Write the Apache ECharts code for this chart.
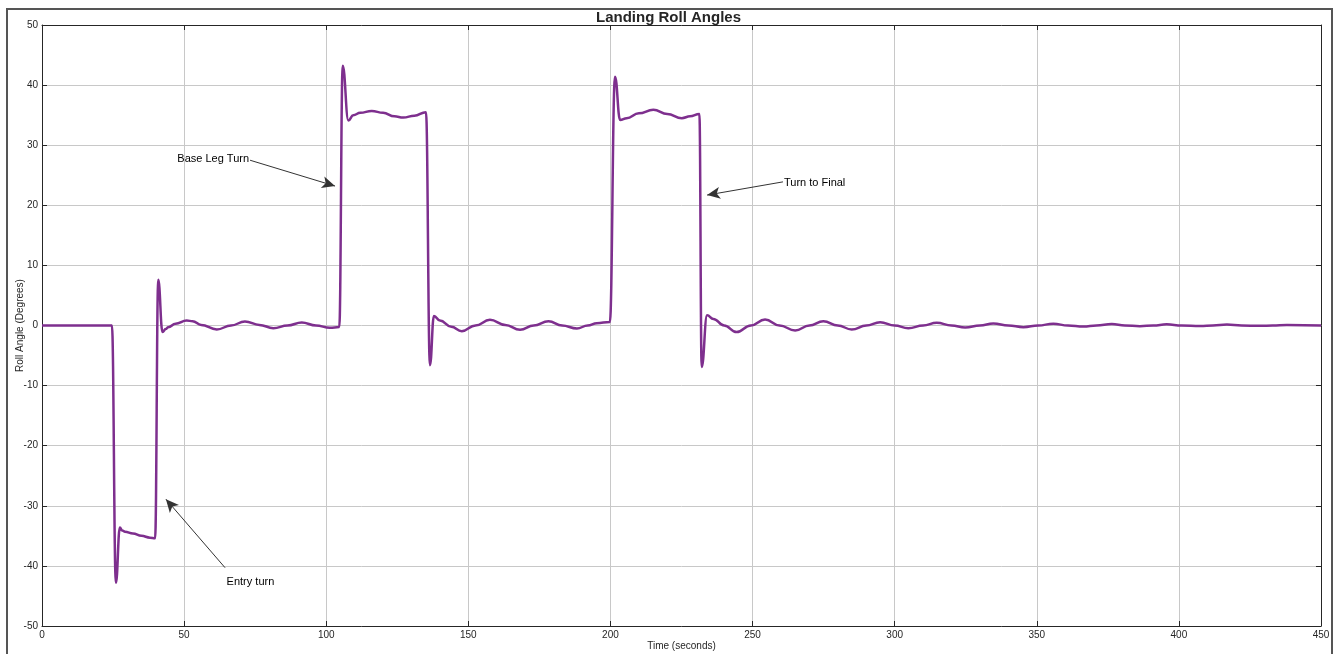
<!DOCTYPE html>
<html>
<head>
<meta charset="utf-8">
<style>
  html, body { margin: 0; padding: 0; background: #ffffff; }
  #chart { width: 1337px; height: 654px; }
</style>
<script src="https://cdn.jsdelivr.net/npm/echarts@6/dist/echarts.min.js"></script>
</head>
<body>
<div id="chart"></div>
<script>
// ---- Data ----
const times = [0, 24.6, 26.0, 27.4, 28.2, 29.2, 32, 35, 38, 39.8, 40.9, 42.4, 43.5, 44.4, 47, 50.9, 53, 56, 61.5, 66.5, 71.4, 76.5, 81.4, 86.4, 91.4, 96.4, 101.3, 104.6,
  105.8, 107.8, 109.5, 112, 116, 120, 124, 127.1, 131, 135.1, 136.5, 137.9, 140, 144, 147.7, 152.5, 157.6, 163, 168.2, 173, 178.2, 183, 188.2, 192, 195.2, 199.8,
  201.6, 203.4, 205.7, 210, 215.1, 220, 225.1, 228, 231.3, 232.1, 234.0, 236.2, 240, 244.4, 249.4, 254.4, 259.5, 265, 270, 274.9, 280, 284.9, 290, 294.9, 300,
  304.8, 310, 314.8, 320, 324.8, 330, 334.7, 340, 345.3, 350.5, 355.8, 361, 366.4, 371, 376.4, 381, 386.3, 391, 395.7, 401, 407.5, 412, 416.9, 422, 428.6, 433, 438, 450];
const roll = [0, 0, -42.8, -33.6, -34.1, -34.3, -34.6, -35.0, -35.3, -35.4, 7.6, -1.1, -0.6, -0.3, 0.3, 0.83, 0.7, 0.1, -0.67, 0, 0.67, 0.1, -0.44, 0, 0.5, 0, -0.39, -0.25,
  43.2, 34.1, 35.0, 35.4, 35.7, 35.4, 34.8, 34.6, 34.9, 35.5, -6.6, 1.6, 0.83, -0.2, -0.94, 0, 0.94, 0.1, -0.72, 0, 0.72, 0, -0.5, 0, 0.39, 0.6,
  41.4, 34.2, 34.5, 35.3, 35.9, 35.2, 34.5, 34.8, 35.2, -6.9, 1.7, 1.1, 0, -1.1, 0, 1.0, 0, -0.83, 0, 0.72, 0, -0.67, 0, 0.56, 0,
  -0.44, 0, 0.44, 0, -0.33, 0, 0.33, 0, -0.28, 0, 0.3, 0, -0.17, 0, 0.25, 0, -0.11, 0, 0.2, 0, -0.1, 0, 0.15, 0, -0.05, 0, 0.08, 0];

const xTicks = [0, 50, 100, 150, 200, 250, 300, 350, 400, 450];
const yTicks = [-50, -40, -30, -20, -10, 0, 10, 20, 30, 40, 50];

const annoTexts = ['Base Leg Turn', 'Turn to Final', 'Entry turn'];
const annoTextAt = [[73.2, 27.7], [260.7, 23.7], [64.6, -42.6]];
const arrowFrom = [[73.2, 27.5], [260.7, 23.9], [64.4, -40.3]];
const arrowTo = [[103.1, 23.2], [234.0, 21.7], [43.6, -28.9]];
const annoSide = ['left', 'right', 'right'];

// ---- Build chart ----
const seriesData = times.map((t, i) => [t, roll[i]]);
const axisColor = '#262626';
const font = 'Liberation Sans, Arial, Helvetica, sans-serif';

const chart = echarts.init(document.getElementById('chart'), null, { renderer: 'canvas' });

const arrowLines = arrowFrom.map((f, i) => [
  { coord: f, symbol: 'none' },
  { coord: arrowTo[i], symbol: 'arrow', symbolSize: [9, 13] }
]);
const labelPoints = annoTexts.map((txt, i) => ({
  coord: annoTextAt[i],
  symbol: 'circle',
  symbolSize: 0,
  label: {
    show: true, formatter: txt, position: annoSide[i], distance: 1,
    color: '#000', fontSize: 11, fontFamily: font
  }
}));

const option = {
  animation: false,
  backgroundColor: '#ffffff',
  title: {
    text: 'Landing Roll Angles',
    left: 'center',
    top: 5,
    textStyle: { fontSize: 15, fontWeight: 'bold', color: '#262626', fontFamily: font }
  },
  graphic: [{
    type: 'rect',
    shape: { x: 7, y: 9, width: 1325, height: 660 },
    style: { fill: 'none', stroke: '#555555', lineWidth: 2 },
    z: -10, silent: true
  }],
  grid: { left: 42, right: 16, top: 25, bottom: 28, containLabel: false, outerBoundsMode: 'none' },
  xAxis: [{
    type: 'value', min: 0, max: 450, interval: 50,
    name: 'Time (seconds)', nameLocation: 'middle', nameGap: 15, nameMoveOverlap: false,
    nameTextStyle: { fontSize: 10, color: axisColor, fontFamily: font },
    axisLine: { show: true, onZero: false, lineStyle: { color: axisColor, width: 1 } },
    axisTick: { show: true, inside: true, length: 5, lineStyle: { color: axisColor } },
    axisLabel: { fontSize: 10, color: axisColor, margin: 4, fontFamily: font,
      formatter: v => xTicks.includes(v) ? String(v) : '' },
    splitLine: { show: true, lineStyle: { color: '#c8c8c8', width: 1 } }
  }, {
    type: 'value', position: 'top', min: 0, max: 450, interval: 50,
    axisLine: { show: true, onZero: false, lineStyle: { color: axisColor, width: 1 } },
    axisTick: { show: true, inside: true, length: 5, lineStyle: { color: axisColor } },
    axisLabel: { show: false }, splitLine: { show: false }
  }],
  yAxis: [{
    type: 'value', min: -50, max: 50, interval: 10,
    name: 'Roll Angle (Degrees)', nameLocation: 'middle', nameGap: 17, nameMoveOverlap: false,
    nameTextStyle: { fontSize: 10, color: axisColor, fontFamily: font },
    axisLine: { show: true, onZero: false, lineStyle: { color: axisColor, width: 1 } },
    axisTick: { show: true, inside: true, length: 5, lineStyle: { color: axisColor } },
    axisLabel: { fontSize: 10, color: axisColor, margin: 4, fontFamily: font,
      formatter: v => yTicks.includes(v) ? String(v) : '' },
    splitLine: { show: true, lineStyle: { color: '#c8c8c8', width: 1 } }
  }, {
    type: 'value', position: 'right', min: -50, max: 50, interval: 10,
    axisLine: { show: true, onZero: false, lineStyle: { color: axisColor, width: 1 } },
    axisTick: { show: true, inside: true, length: 5, lineStyle: { color: axisColor } },
    axisLabel: { show: false }, splitLine: { show: false }
  }],
  series: [{
    type: 'line',
    data: seriesData,
    showSymbol: false,
    smooth: 0.45,
    smoothMonotone: 'x',
    lineStyle: { color: '#7E2F8E', width: 2.5 },
    z: 3,
    markLine: {
      silent: true,
      animation: false,
      label: { show: false },
      lineStyle: { color: '#333333', width: 1, type: 'solid' },
      data: arrowLines
    },
    markPoint: {
      silent: true,
      animation: false,
      data: labelPoints
    }
  }]
};
chart.setOption(option);
</script>
</body>
</html>
